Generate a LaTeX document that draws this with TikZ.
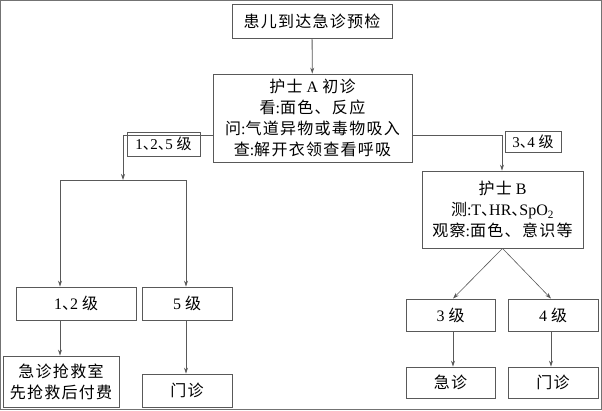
\documentclass[tikz,border=0pt]{standalone}
\usepackage{fontspec}
\setmainfont{Liberation Serif}
\newfontfamily\cjk[LetterSpace=8]{Noto Sans CJK SC}
\newcommand{\dun}{{\cjk 、}\kern-0.5em}
\usetikzlibrary{arrows.meta}
\begin{document}
\begin{tikzpicture}[x=1pt,y=-1pt,
  line width=0.8pt,
  ln/.style={draw=black!65},
  arr/.style={ln,-{Stealth[length=6pt,width=4pt]}},
  box/.style={draw=black!65,inner sep=0pt,align=center,font=\fontsize{16}{21}\selectfont},
  lbl/.style={box,font=\fontsize{15}{17}\selectfont}]
\useasboundingbox (0,0) rectangle (602,410);
\draw[draw=black!55] (0.5,0.5) rectangle (601.5,409.5);

\node[box,minimum width=160pt,minimum height=34pt] (start) at (312,21.5) {\cjk 患儿到达急诊预检};
\node[box,minimum width=199pt,minimum height=88pt] (nurseA) at (312.5,118)
  {{\cjk 护士} A {\cjk 初诊}\\{\cjk 看}:{\cjk 面色、反应}\\{\cjk 问}:{\cjk 气道异物或毒物吸入}\\{\cjk 查}:{\cjk 解开衣领查看呼吸}};
\node[lbl,minimum width=73pt,minimum height=24pt] (l125) at (163.5,144) {1\dun 2\dun 5 {\cjk 级}};
\node[lbl,minimum width=56pt,minimum height=21pt] (l34) at (533,141.5) {3\dun 4 {\cjk 级}};

\node[box,minimum width=120pt,minimum height=33pt] (g12) at (76,303.5) {1\dun 2 {\cjk 级}};
\node[box,minimum width=90pt,minimum height=33pt] (g5) at (187,303.5) {5 {\cjk 级}};
\node[box,minimum width=116pt,minimum height=51pt] (rescue) at (61,381.5) {\cjk 急诊抢救室\\\cjk 先抢救后付费};
\node[box,minimum width=90pt,minimum height=33pt] (clinicL) at (187,390.5) {\cjk 门诊};

\node[box,minimum width=161pt,minimum height=77pt] (nurseB) at (502.5,209.5)
  {{\cjk 护士} B\\{\cjk 测}:T\dun HR\dun SpO\textsubscript{2}\\{\cjk 观察}:{\cjk 面色、意识等}};
\node[box,minimum width=89pt,minimum height=32pt] (g3) at (450.5,315) {3 {\cjk 级}};
\node[box,minimum width=90pt,minimum height=32pt] (g4) at (553,315) {4 {\cjk 级}};
\node[box,minimum width=89pt,minimum height=31pt] (er) at (450.5,382.5) {\cjk 急诊};
\node[box,minimum width=90pt,minimum height=31pt] (clinicR) at (553,382.5) {\cjk 门诊};

\coordinate (lj) at (123,135);
\coordinate (rj) at (502,135);
\coordinate (lmid) at (123,180);
\coordinate (lbarL) at (60,180);
\coordinate (lbarR) at (186,180);
\coordinate (c3) at (453,0);
\coordinate (c4) at (551,0);

\draw[arr] (start) -- (nurseA);
\draw[ln] (nurseA.west |- lj) -- (lj);
\draw[arr] (lj) -- (lmid);
\draw[ln] (lbarL) -- (lbarR);
\draw[arr] (lbarL) -- (lbarL |- g12.north);
\draw[arr] (lbarR) -- (lbarR |- g5.north);
\draw[arr] (g12.south -| lbarL) -- (rescue.north -| lbarL);
\draw[arr] (g5.south -| lbarR) -- (clinicL.north -| lbarR);

\draw[ln] (nurseA.east |- rj) -- (rj);
\draw[arr] (rj) -- (rj |- nurseB.north);
\draw[arr,line width=0.6pt] (nurseB.south) -- (g3.north -| c3);
\draw[arr,line width=0.6pt] (nurseB.south) -- (g4.north -| c4);
\draw[arr] (g3.south -| c3) -- (er.north -| c3);
\draw[arr] (g4.south -| c4) -- (clinicR.north -| c4);
\end{tikzpicture}
\end{document}
